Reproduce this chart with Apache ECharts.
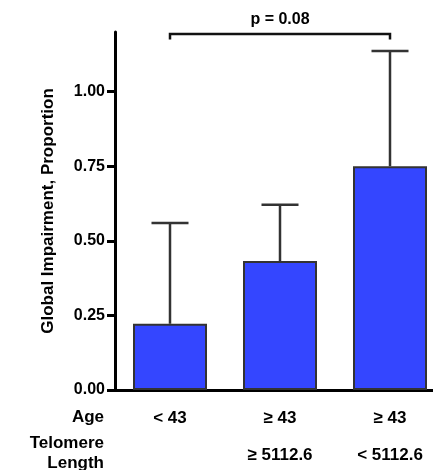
<!DOCTYPE html>
<html>
<head>
<meta charset="utf-8">
<script src="https://cdn.jsdelivr.net/npm/echarts@6/dist/echarts.min.js"></script>
<style>
  html, body { margin: 0; padding: 0; background: #fff; }
  #chart { width: 433px; height: 470px; }
</style>
</head>
<body>
<div id="chart"></div>
<script>
// Groups: age row and telomere-length row
const ageLabels = ['< 43', '≥ 43', '≥ 43'];
const telomereLabels = ['', '≥ 5112.6', '< 5112.6'];
// Mean proportion with global impairment and upper error limit
const meanValues = [0.222, 0.432, 0.750];
const upperValues = [0.560, 0.621, 1.136];
const yTicks = [0, 0.25, 0.5, 0.75, 1.0];
// Comparison bracket: from group 0 to group 2
const bracket = { from: 0, to: 2, level: 1.193, drop: 0.018, text: 'p = 0.08' };

const FONT = '"Liberation Sans", Arial, Helvetica, sans-serif';
const chart = echarts.init(document.getElementById('chart'));

const option = {
  animation: false,
  grid: { left: 115, right: -12, top: 32, bottom: 80, containLabel: false, outerBoundsMode: 'none' },
  xAxis: {
    type: 'category',
    data: ageLabels.map((a, i) => a + '\n' + telomereLabels[i]),
    boundaryGap: true,
    axisLine: { lineStyle: { color: '#000', width: 3 } },
    axisTick: { alignWithLabel: true, length: 7, lineStyle: { color: '#000', width: 3 } },
    axisLabel: {
      margin: 10,
      color: '#000',
      fontFamily: FONT,
      fontWeight: 'bold',
      fontSize: 17,
      lineHeight: 37,
      verticalAlign: 'top'
    }
  },
  yAxis: {
    type: 'value',
    min: 0,
    max: 1.2,
    interval: 0.25,
    name: 'Global Impairment, Proportion',
    nameLocation: 'middle',
    nameGap: 58,
    nameRotate: 90,
    nameTextStyle: { color: '#000', fontFamily: FONT, fontWeight: 'bold', fontSize: 17 },
    splitLine: { show: false },
    axisLine: { show: true, lineStyle: { color: '#000', width: 3 } },
    axisTick: { show: true, length: 8, customValues: yTicks, lineStyle: { color: '#000', width: 3 } },
    axisLabel: {
      margin: 10,
      color: '#000',
      fontFamily: FONT,
      fontWeight: 'bold',
      fontSize: 16,
      customValues: yTicks,
      formatter: v => v.toFixed(2)
    }
  },
  series: [
    {
      type: 'bar',
      data: meanValues,
      barWidth: 74,
      itemStyle: { color: '#3446FF', borderColor: '#333', borderWidth: 2 },
      z: 2
    },
    {
      // error bars: vertical stem from bar top with a cap
      type: 'custom',
      data: meanValues.map((m, i) => [i, m, upperValues[i]]),
      renderItem: function (params, api) {
        const i = api.value(0);
        const base = api.coord([i, api.value(1)]);
        const top = api.coord([i, api.value(2)]);
        const half = 18.5;
        const style = { stroke: '#333', lineWidth: 2.5, fill: null };
        return {
          type: 'group',
          children: [
            { type: 'line', shape: { x1: base[0], y1: base[1], x2: top[0], y2: top[1] }, style: style },
            { type: 'line', shape: { x1: top[0] - half, y1: top[1], x2: top[0] + half, y2: top[1] }, style: style }
          ]
        };
      },
      z: 1
    },
    {
      // significance bracket with p-value
      type: 'custom',
      data: [[bracket.from, bracket.to, bracket.level]],
      clip: false,
      renderItem: function (params, api) {
        const a = api.coord([api.value(0), api.value(2)]);
        const b = api.coord([api.value(1), api.value(2)]);
        const low = api.coord([api.value(0), api.value(2) - bracket.drop]);
        const style = { stroke: '#111', lineWidth: 2.5, fill: null };
        return {
          type: 'group',
          children: [
            { type: 'polyline', shape: { points: [[a[0], low[1]], [a[0], a[1]], [b[0], b[1]], [b[0], low[1]]] }, style: style },
            {
              type: 'text',
              style: {
                x: (a[0] + b[0]) / 2, y: a[1] - 6,
                text: bracket.text,
                align: 'center', verticalAlign: 'bottom',
                fill: '#000', font: 'bold 16px ' + FONT
              }
            }
          ]
        };
      }
    }
  ],
  graphic: [
    {
      type: 'text', right: 433 - 104, top: 409,
      style: { text: 'Age', textAlign: 'right', fill: '#000', font: 'bold 17px ' + FONT }
    },
    {
      type: 'text', right: 433 - 104, top: 433,
      style: { text: 'Telomere\nLength', textAlign: 'right', lineHeight: 20, fill: '#000', font: 'bold 17px ' + FONT }
    }
  ]
};

chart.setOption(option);
</script>
</body>
</html>
